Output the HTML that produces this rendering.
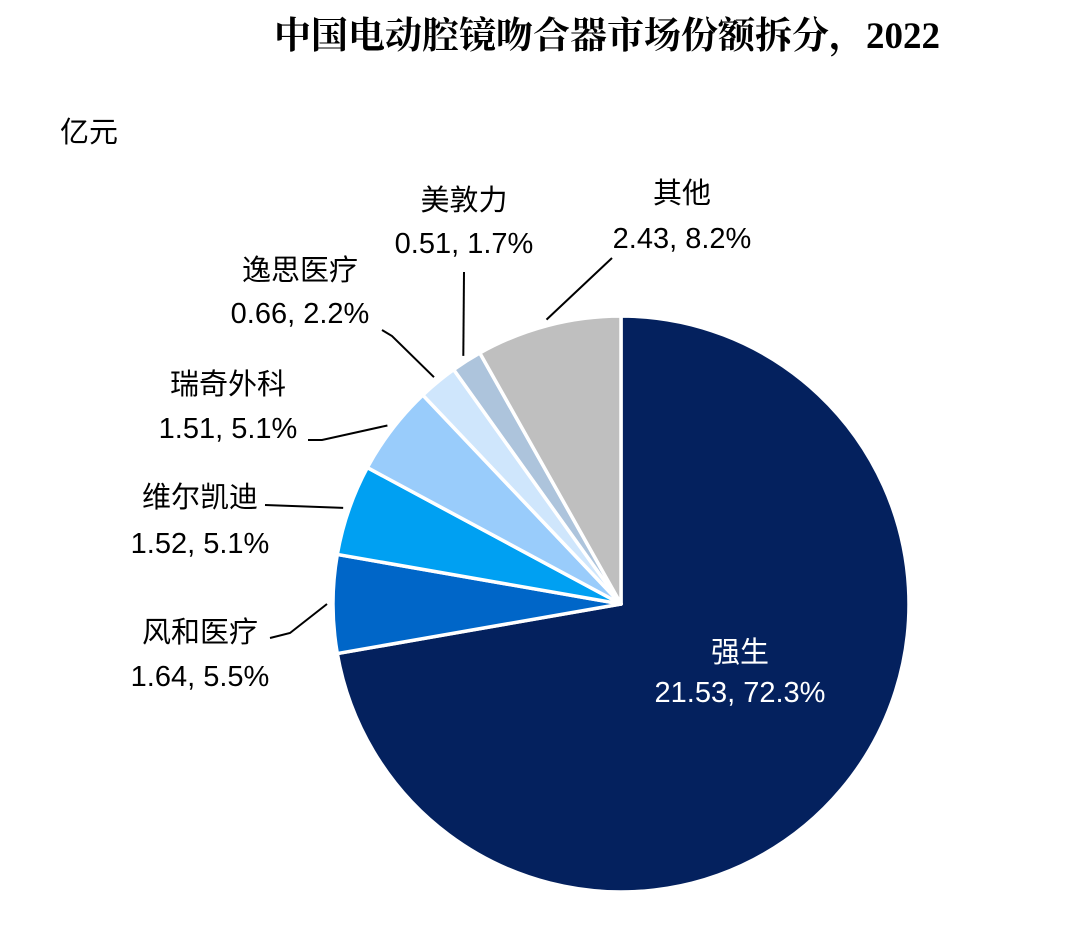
<!DOCTYPE html>
<html><head><meta charset="utf-8">
<style>
body{margin:0;background:#fff;}
svg{display:block;font-family:"Liberation Sans","Noto Sans CJK SC",sans-serif;}
</style></head>
<body>
<svg id="chart" width="1080" height="938">
<text x="607" y="48" text-anchor="middle" font-family="'Liberation Serif','Noto Serif CJK SC',serif" font-weight="bold" font-size="37" fill="#000">中国电动腔镜吻合器市场份额拆分，2022</text>
<text x="60" y="142" font-size="29" fill="#000">亿元</text>
<g id="slices"></g>
<g id="leaders" stroke="#000" stroke-width="2" fill="none"></g>
<g id="labels" font-size="29" fill="#000"></g>
</svg>
<script>
const categories=["强生","风和医疗","维尔凯迪","瑞奇外科","逸思医疗","美敦力","其他"];
const values=[21.53,1.64,1.52,1.51,0.66,0.51,2.43];
const percents=["72.3%","5.5%","5.1%","5.1%","2.2%","1.7%","8.2%"];
const valueLabels=["21.53","1.64","1.52","1.51","0.66","0.51","2.43"];
const colors=["#04215e","#0066c8","#00a0f2","#99ccfb","#cfe6fc","#adc4dc","#bfbfbf"];
const cx=621,cy=604,r=288;
const NS="http://www.w3.org/2000/svg";
const total=values.reduce((a,b)=>a+b,0);
const gS=document.getElementById('slices'),gL=document.getElementById('leaders'),gT=document.getElementById('labels');
function pt(a,rr){return [cx+rr*Math.sin(a),cy-rr*Math.cos(a)];}
let a0=0;
const labelPos=[null,[200,632,200,676],[200,497,200,543],[228,384,228,428],[300,270,300,313],[464,200,464,243],[682,193,682,238]];
const leaderPts=[null,[[0,0],[290,633],[270,638]],[[0,0],[265,505]],[[0,0],[322,440],[308,440]],[[0,0],[392,336],[382,330]],[[0,0],[464,272]],[[0,0],[612,258]]];
values.forEach((v,i)=>{
  const a1=a0+v/total*2*Math.PI;
  const p0=pt(a0,r),p1=pt(a1,r);
  const large=(a1-a0)>Math.PI?1:0;
  const path=document.createElementNS(NS,'path');
  path.setAttribute('d',`M${cx},${cy}L${p0[0]},${p0[1]}A${r},${r} 0 ${large} 1 ${p1[0]},${p1[1]}Z`);
  path.setAttribute('fill',colors[i]);
  path.setAttribute('stroke','#fff');
  path.setAttribute('stroke-width','3.5');
  path.setAttribute('stroke-linejoin','round');
  
  
  gS.appendChild(path);
  const mid=(a0+a1)/2;
  if(i===0){
    const t1=document.createElementNS(NS,'text');
    t1.setAttribute('x',740);t1.setAttribute('y',662);t1.setAttribute('text-anchor','middle');t1.setAttribute('fill','#fff');
    t1.textContent=categories[i];
    
    
    gT.appendChild(t1);
    const t2=document.createElementNS(NS,'text');
    t2.setAttribute('x',740);t2.setAttribute('y',702);t2.setAttribute('text-anchor','middle');t2.setAttribute('fill','#fff');
    t2.textContent=valueLabels[i]+', '+percents[i];
    
    
    gT.appendChild(t2);
  } else {
    const s=pt(mid,r+6);
    const pts=leaderPts[i].slice();pts[0]=s;
    const pl=document.createElementNS(NS,'polyline');
    pl.setAttribute('points',pts.map(p=>p.join(',')).join(' '));
    
    
    gL.appendChild(pl);
    const lp=labelPos[i];
    const t1=document.createElementNS(NS,'text');
    t1.setAttribute('x',lp[0]);t1.setAttribute('y',lp[1]+10);t1.setAttribute('text-anchor','middle');
    t1.textContent=categories[i];
    
    
    gT.appendChild(t1);
    const t2=document.createElementNS(NS,'text');
    t2.setAttribute('x',lp[2]);t2.setAttribute('y',lp[3]+10);t2.setAttribute('text-anchor','middle');
    t2.textContent=valueLabels[i]+', '+percents[i];
    
    
    gT.appendChild(t2);
  }
  a0=a1;
});
</script>
</body></html>
